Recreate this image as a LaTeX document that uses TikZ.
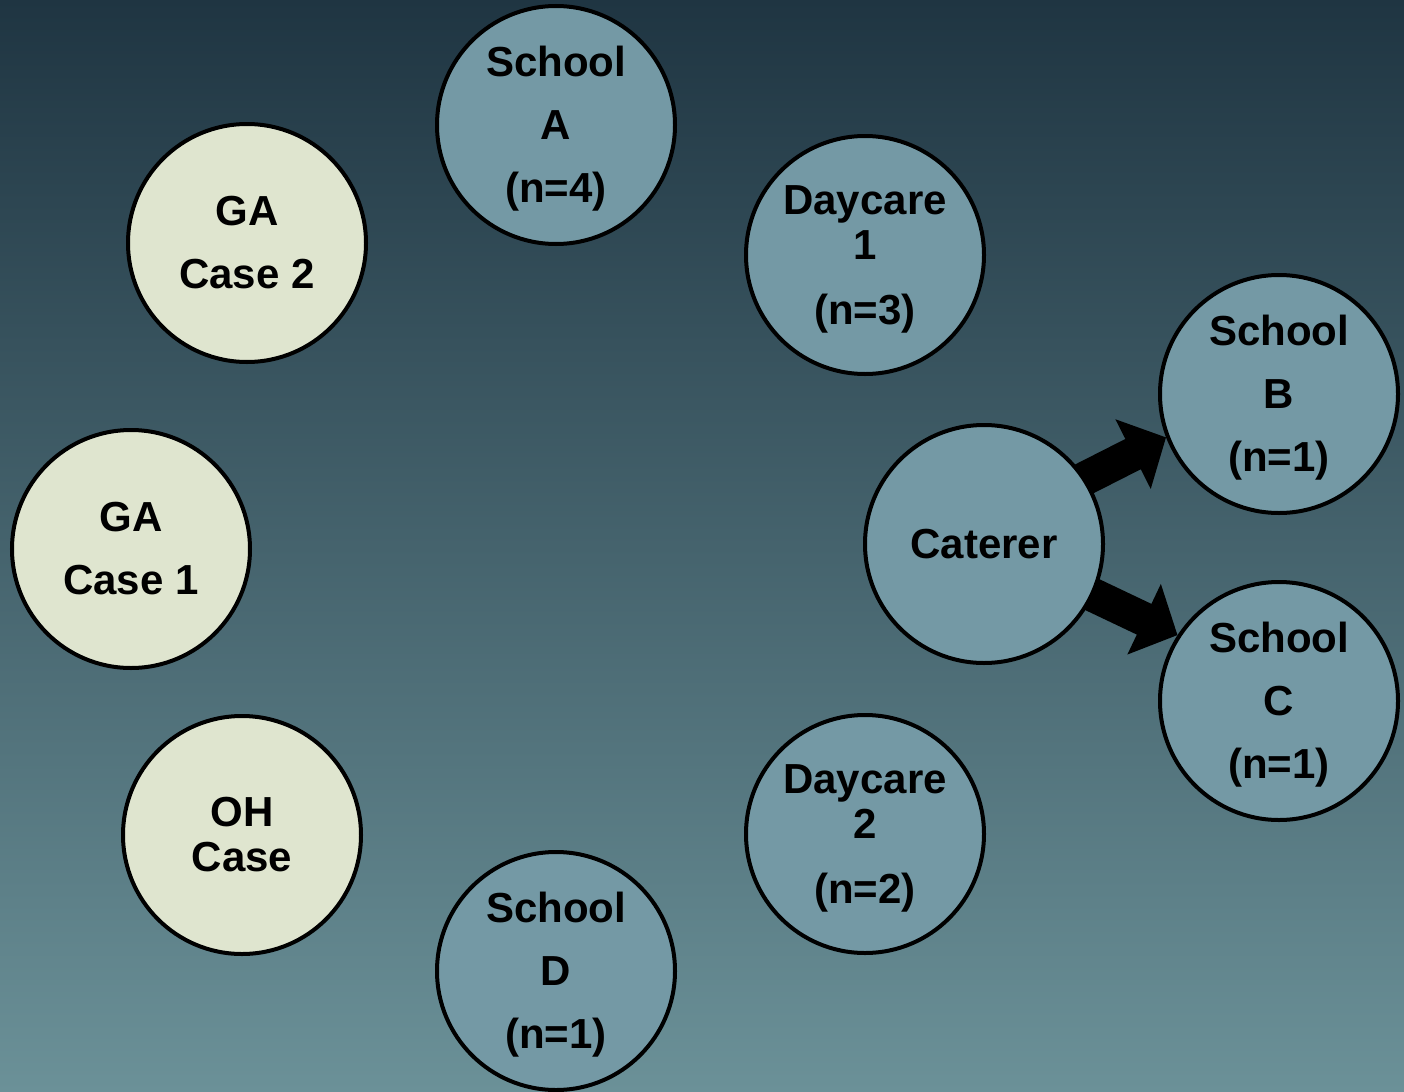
\documentclass[tikz,border=0pt]{standalone}
\usepackage{fontspec}
\setmainfont{Liberation Sans}
\usetikzlibrary{arrows.meta,calc}
\pgfdeclarelayer{behind}
\pgfsetlayers{behind,main}
\definecolor{bgtop}{HTML}{1F3542}
\definecolor{bgbot}{HTML}{6B9198}
\definecolor{sitefill}{HTML}{7499A5}
\definecolor{casefill}{HTML}{DFE5CF}
% taller first line so three-line labels sit a little lower
\newcommand\hitop{\rule{0pt}{19pt}}
\tikzset{
  bubble/.style={circle, draw=black, line width=2pt, minimum size=119pt,
    inner sep=0pt, align=center, text=black,
    font=\bfseries\fontsize{21}{22.5}\selectfont},
  site/.style={bubble, fill=sitefill},
  casenode/.style={bubble, fill=casefill},
  fatarrow/.style={line width=17pt, draw=black,
    -{Triangle[length=18.5pt, width=38pt]}}
}
\begin{document}
\begin{tikzpicture}[x=0.5pt, y=-0.5pt]
  % backdrop with vertical gradient
  \begin{pgfonlayer}{behind}
    \shade[top color=bgtop, bottom color=bgbot] (0,0) rectangle (1404,1092);
  \end{pgfonlayer}
  \useasboundingbox (0,0) rectangle (1404,1092);

  % case-patient bubbles
  \node[casenode] (ga2) at (247,243) {GA\\[9pt]Case 2};
  \node[casenode] (ga1) at (131,549) {GA\\[9pt]Case 1};
  \node[casenode] (oh)  at (242,835) {OH\\Case};

  % institution bubbles
  \node[site] (schA) at (556,125) {\hitop School\\[9pt]A\\[9pt](n=4)};
  \node[site] (day1) at (865,255) {\hitop Daycare\\1\\[10pt](n=3)};
  \node[site] (cat)  at (984,544) {Caterer};
  \node[site] (schB) at (1279,394) {\hitop School\\[9pt]B\\[9pt](n=1)};
  \node[site] (schC) at (1279,701) {\hitop School\\[9pt]C\\[9pt](n=1)};
  \node[site] (day2) at (865,834) {\hitop Daycare\\2\\[10pt](n=2)};
  \node[site] (schD) at (556,971) {\hitop School\\[9pt]D\\[9pt](n=1)};

  % supply links from the caterer, tucked under its disc
  \begin{pgfonlayer}{behind}
    \draw[fatarrow] ($(cat.center)!0.85!(cat.34)$) -- (schB.201);
    \draw[fatarrow] ($(cat.center)!0.85!(cat.-25)$) -- (schC.147);
  \end{pgfonlayer}
\end{tikzpicture}
\end{document}
